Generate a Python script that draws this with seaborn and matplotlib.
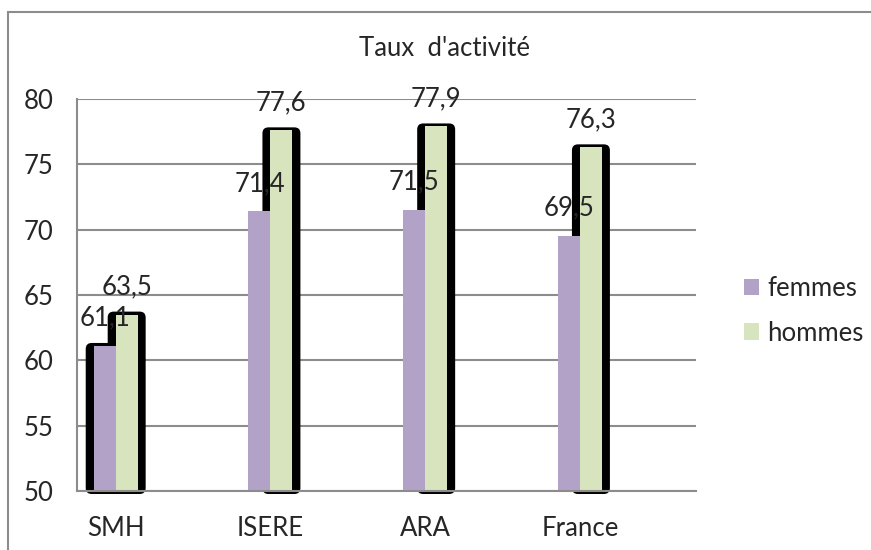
import numpy as np
import pandas as pd
import matplotlib
matplotlib.use("Agg")
import matplotlib.pyplot as plt
from matplotlib.patches import FancyBboxPatch, Rectangle
import seaborn as sns

categories = ["SMH", "ISERE", "ARA", "France"]
femmes = [61.1, 71.4, 71.5, 69.5]
hommes = [63.5, 77.6, 77.9, 76.3]
series = ["femmes", "hommes"]
colors = ["#B3A2C7", "#D7E4BD"]
yticks = [50, 55, 60, 65, 70, 75, 80]

df = pd.DataFrame({
    "zone": categories * 2,
    "taux": femmes + hommes,
    "sexe": [series[0]] * len(categories) + [series[1]] * len(categories),
})

sns.set_style("white")
plt.rcParams["font.family"] = ["Lato", "DejaVu Sans"]
fs = 18.5
txt = "#262626"
grey = "#8C8C8C"

W, H = 871, 550
fig = plt.figure(figsize=(W / 100, H / 100), dpi=100)
ax = fig.add_axes([77 / W, 1 - 491 / H, (696 - 77) / W, (491 - 99) / H])

sns.barplot(data=df, x="zone", y="taux", hue="sexe", palette=colors,
            width=0.284, gap=0, saturation=1, ax=ax, zorder=2,
            edgecolor="none", linewidth=0)

ax.set_xlim(-0.25, 3.75)
ax.set_ylim(50, 80)
ax.set_yticks(yticks)
ax.yaxis.grid(True, color=grey, lw=1.5)
ax.set_axisbelow(True)
for s in ["top", "right"]:
    ax.spines[s].set_visible(False)
for s in ["left", "bottom"]:
    ax.spines[s].set_color(grey)
    ax.spines[s].set_linewidth(1.5)

ax.set_xticks(range(len(categories)))
ax.set_xticklabels(categories)
ax.set_xticks(np.arange(-0.25, 3.8, 0.5), minor=True)
ax.tick_params(axis="x", which="major", length=0, pad=18, labelsize=fs, labelcolor=txt)
ax.tick_params(axis="x", which="minor", length=6, width=1.5, color=grey, direction="out")
ax.tick_params(axis="y", length=6, width=1.5, color=grey, direction="out",
               pad=11, labelsize=fs, labelcolor=txt)
ax.set_xlabel("")
ax.set_ylabel("")

# black rounded "shadow" behind the bars
pxx = ax.get_position().width * W / 4.0
pxy = ax.get_position().height * H / 30.0
dxl, dxr, dy = 8 / pxx, 8 / pxx, 3 / pxy
r = 6 / pxx
for i, cont in enumerate(ax.containers):
    for j, bar in enumerate(cont):
        if i == 0 and j > 0:
            continue
        x0 = bar.get_x()
        w = bar.get_width()
        top = bar.get_height()
        y0 = 50 - 3 / pxy
        sh = FancyBboxPatch((x0 - dxl, y0), w + dxl + dxr, top + dy - y0,
                            boxstyle=f"round,pad=0,rounding_size={r}",
                            mutation_aspect=pxx / pxy, fc="black", ec="none",
                            zorder=1, clip_on=False)
        ax.add_patch(sh)

# data labels
for cont, vals in zip(ax.containers, [femmes, hommes]):
    for bar, v in zip(cont, vals):
        ax.annotate(f"{v:.1f}".replace(".", ","),
                    (bar.get_x() + bar.get_width() / 2, v),
                    xytext=(0, 28), textcoords="offset pixels",
                    ha="center", va="center", fontsize=fs, color=txt,
                    annotation_clip=False, zorder=5)

leg = ax.legend(loc="center left", bbox_to_anchor=(744 / W, 1 - 311 / H),
                bbox_transform=fig.transFigure, frameon=False, fontsize=fs,
                handlelength=0.6, handleheight=0.6, handletextpad=0.3,
                labelspacing=0.75, borderpad=0, borderaxespad=0)
for t in leg.get_texts():
    t.set_color(txt)

fig.text(444 / W, 1 - 48 / H, "Taux  d'activité", ha="center", va="center",
         fontsize=fs, color=txt)

fig.patches.append(Rectangle((8 / W, -0.1), 1.2, 1.1 - 12 / H, transform=fig.transFigure,
                             fill=False, ec=grey, lw=1.5, figure=fig))

fig.savefig("out.png", dpi=100)
